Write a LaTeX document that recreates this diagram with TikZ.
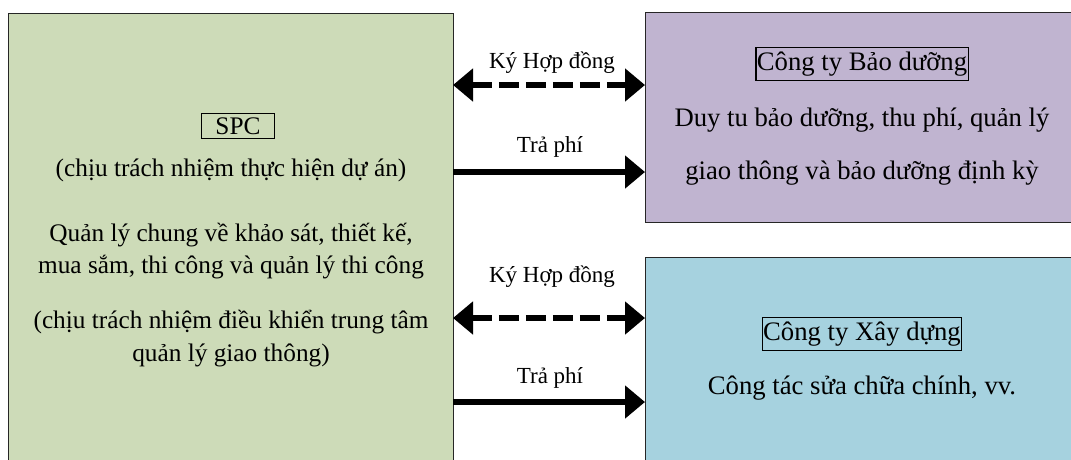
\documentclass[tikz,border=0pt]{standalone}
\usepackage{fontspec}
\setmainfont{Liberation Serif}
\usetikzlibrary{arrows.meta}
\definecolor{greenbox}{RGB}{205,219,184}
\definecolor{purplebox}{RGB}{192,180,208}
\definecolor{bluebox}{RGB}{166,210,223}
\begin{document}
\begin{tikzpicture}[x=1pt,y=-1pt,
  every node/.style={font=\fontsize{25.3}{29}\selectfont},
  bigtext/.style={font=\fontsize{26.7}{30}\selectfont},
  panel/.style={draw=black!85,line width=1.3pt,inner sep=0pt},
  framed/.style={draw,line width=1.3pt,inner xsep=1pt,inner ysep=4pt},
  txt/.style={inner sep=0pt,align=center},
  lbl/.style={inner sep=0pt,font=\fontsize{23}{27}\selectfont},
  arr/.style={line width=6.5pt,-{Triangle[length=20pt,width=32pt]}},
  darr/.style={line width=6.5pt,dash pattern=on 20pt off 7pt,{Triangle[length=20pt,width=32pt]}-{Triangle[length=20pt,width=32pt]}}
]
\useasboundingbox (0,0) rectangle (1071,459);
\node[panel,fill=greenbox,minimum width=445pt,minimum height=460pt,anchor=north west] (spc) at (8,13) {};
\node[panel,fill=purplebox,minimum width=440pt,minimum height=210pt,anchor=north west] (bd) at (645,12) {};
\node[panel,fill=bluebox,minimum width=440pt,minimum height=215pt,anchor=north west] (xd) at (645,257) {};

% SPC texts
\node[framed,inner xsep=14pt] (spct) at (238,126) {SPC};
\node[txt] (spc1) at (231,170) {(chịu trách nhiệm thực hiện dự án)};
\node[txt] (spc2) at (231,235) {Quản lý chung về khảo sát, thiết kế,};
\node[txt] (spc3) at (231,267) {mua sắm, thi công và quản lý thi công};
\node[txt] (spc4) at (231,322) {(chịu trách nhiệm điều khiển trung tâm};
\node[txt] (spc5) at (231,355) {quản lý giao thông)};

% Bao duong
\node[framed,bigtext] (bdt) at (862,64) {Công ty Bảo dưỡng};
\node[txt,bigtext] (bd1) at (862,120) {Duy tu bảo dưỡng, thu phí, quản lý};
\node[txt,bigtext] (bd2) at (862,173) {giao thông và bảo dưỡng định kỳ};

% Xay dung
\node[framed,bigtext] (xdt) at (862,334) {Công ty Xây dựng};
\node[txt,bigtext] (xd1) at (862,388) {Công tác sửa chữa chính, vv.};

% arrows
\coordinate (a1) at (453,85);
\coordinate (b1) at (645,85);
\coordinate (a2) at (453,172);
\coordinate (b2) at (645,172);
\coordinate (a3) at (453,318);
\coordinate (b3) at (645,318);
\coordinate (a4) at (453,402);
\coordinate (b4) at (645,402);
\draw[darr] (a1) -- (b1);
\draw[arr] (a2) -- (b2);
\draw[darr] (a3) -- (b3);
\draw[arr] (a4) -- (b4);
\node[lbl] (l1) at (552,63) {Ký Hợp đồng};
\node[lbl] (l2) at (550,147) {Trả phí};
\node[lbl] (l3) at (552,277) {Ký Hợp đồng};
\node[lbl] (l4) at (550,378) {Trả phí};
\end{tikzpicture}
\end{document}
